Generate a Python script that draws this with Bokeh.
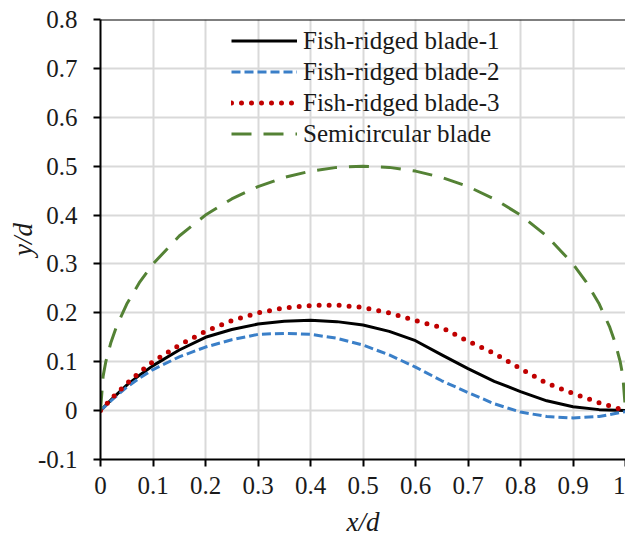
from bokeh.plotting import figure
from bokeh.models import Legend, LegendItem, FixedTicker, Span, Range1d
from bokeh.embed import file_html
from bokeh.resources import INLINE

# ---------------- data ----------------
x_fish = [0, 0.025, 0.05, 0.075, 0.1, 0.15, 0.2, 0.25, 0.3, 0.35, 0.4, 0.45, 0.5,
          0.55, 0.6, 0.65, 0.7, 0.75, 0.8, 0.85, 0.9, 0.95, 1.0]
y_blade1 = [0, 0.027, 0.052, 0.073, 0.092, 0.124, 0.150, 0.166, 0.177, 0.183, 0.185, 0.182, 0.175,
            0.162, 0.143, 0.114, 0.086, 0.060, 0.039, 0.020, 0.008, 0.002, 0]
y_blade2 = [0, 0.025, 0.048, 0.067, 0.084, 0.110, 0.130, 0.145, 0.156, 0.158, 0.156, 0.148, 0.134,
            0.114, 0.089, 0.061, 0.037, 0.014, -0.003, -0.012, -0.015, -0.012, -0.002]
y_blade3 = [0, 0.029, 0.055, 0.079, 0.100, 0.134, 0.162, 0.184, 0.200, 0.210, 0.215, 0.216, 0.211,
            0.200, 0.184, 0.170, 0.142, 0.117, 0.086, 0.056, 0.035, 0.016, 0]

x_semi = [0, 0.005, 0.01, 0.02, 0.03, 0.05, 0.075, 0.1, 0.15, 0.2, 0.25, 0.3, 0.35, 0.4,
          0.45, 0.5, 0.55, 0.6, 0.65, 0.7, 0.75, 0.8, 0.85, 0.9, 0.925, 0.95, 0.97, 0.98,
          0.99, 0.995, 1.0]
y_semi = [0, 0.0705, 0.0995, 0.140, 0.1706, 0.2179, 0.2634, 0.300, 0.3571, 0.400, 0.4330,
          0.4583, 0.4770, 0.4899, 0.4975, 0.500, 0.4975, 0.4899, 0.4770, 0.4583, 0.4330,
          0.400, 0.3571, 0.300, 0.2634, 0.2179, 0.1706, 0.140, 0.0995, 0.0705, 0]

series_names = ["Fish-ridged blade-1", "Fish-ridged blade-2",
                "Fish-ridged blade-3", "Semicircular blade"]

x_ticks = [0, 0.1, 0.2, 0.3, 0.4, 0.5, 0.6, 0.7, 0.8, 0.9, 1.0]
x_tick_labels = ["0", "0.1", "0.2", "0.3", "0.4", "0.5", "0.6", "0.7", "0.8", "0.9", "1"]
y_ticks = [-0.1, 0, 0.1, 0.2, 0.3, 0.4, 0.5, 0.6, 0.7, 0.8]
y_tick_labels = ["-0.1", "0", "0.1", "0.2", "0.3", "0.4", "0.5", "0.6", "0.7", "0.8"]

FONT = "'Liberation Serif', 'Times New Roman', 'DejaVu Serif', serif"

p = figure(width=625, height=543, output_backend="svg", toolbar_location=None,
           x_range=Range1d(0, 1.0), y_range=Range1d(-0.1, 0.8),
           min_border_left=100, min_border_right=0, min_border_top=19,
           min_border_bottom=84)
p.outline_line_color = None
p.background_fill_color = "white"
p.border_fill_color = "white"

for ax in (p.xaxis[0], p.yaxis[0]):
    ax.axis_line_color = "black"
    ax.axis_line_width = 2
    ax.major_tick_line_color = "black"
    ax.major_tick_line_width = 2
    ax.major_tick_out = 7
    ax.major_tick_in = 0
    ax.minor_tick_line_color = None
    ax.major_label_text_font = FONT
    ax.major_label_text_font_size = "25px"
    ax.major_label_text_color = "#1a1a1a"
    ax.axis_label_text_font = FONT
    ax.axis_label_text_font_style = "italic"
    ax.axis_label_text_font_size = "27px"
    ax.axis_label_text_color = "#1a1a1a"

p.xaxis[0].ticker = FixedTicker(ticks=x_ticks)
p.xaxis[0].major_label_overrides = dict(zip(x_ticks, x_tick_labels))
p.yaxis[0].ticker = FixedTicker(ticks=y_ticks)
p.yaxis[0].major_label_overrides = dict(zip(y_ticks, y_tick_labels))
p.xaxis[0].axis_label = "x/d"
p.yaxis[0].axis_label = "y/d"
p.xaxis[0].major_label_standoff = 10
p.yaxis[0].major_label_standoff = 16
p.xaxis[0].axis_label_standoff = 10
p.yaxis[0].axis_label_standoff = -3

for g in (p.xgrid[0], p.ygrid[0]):
    g.grid_line_color = "#D9D9D9"
    g.grid_line_width = 2

p.add_layout(Span(location=0.8, dimension="width", line_color="black", line_width=2))

r1 = p.line(x_fish, y_blade1, line_color="black", line_width=3, line_join="round")
r2 = p.line(x_fish, y_blade2, line_color="#3A7FC8", line_width=3, line_dash="9 4",
            line_join="round")
r3 = p.line(x_fish, y_blade3, line_color="#C00000", line_width=5, line_dash="0 10",
            line_cap="round", line_join="round")
r4 = p.line(x_semi, y_semi, line_color="#548235", line_width=3, line_dash="20 12",
            line_join="round")

legend = Legend(items=[LegendItem(label=n, renderers=[r]) for n, r in
                       zip(series_names, [r1, r2, r3, r4])],
                location=(131, 310))
legend.background_fill_alpha = 0
legend.border_line_color = None
legend.padding = 0
legend.margin = 0
legend.spacing = 0
legend.glyph_width = 66
legend.glyph_height = 31
legend.label_height = 31
legend.label_standoff = 6
legend.label_text_font = FONT
legend.label_text_font_size = "25px"
legend.label_text_color = "#1a1a1a"
legend.label_text_baseline = "middle"
p.add_layout(legend)

open("out.html", "w").write(file_html(p, INLINE))
